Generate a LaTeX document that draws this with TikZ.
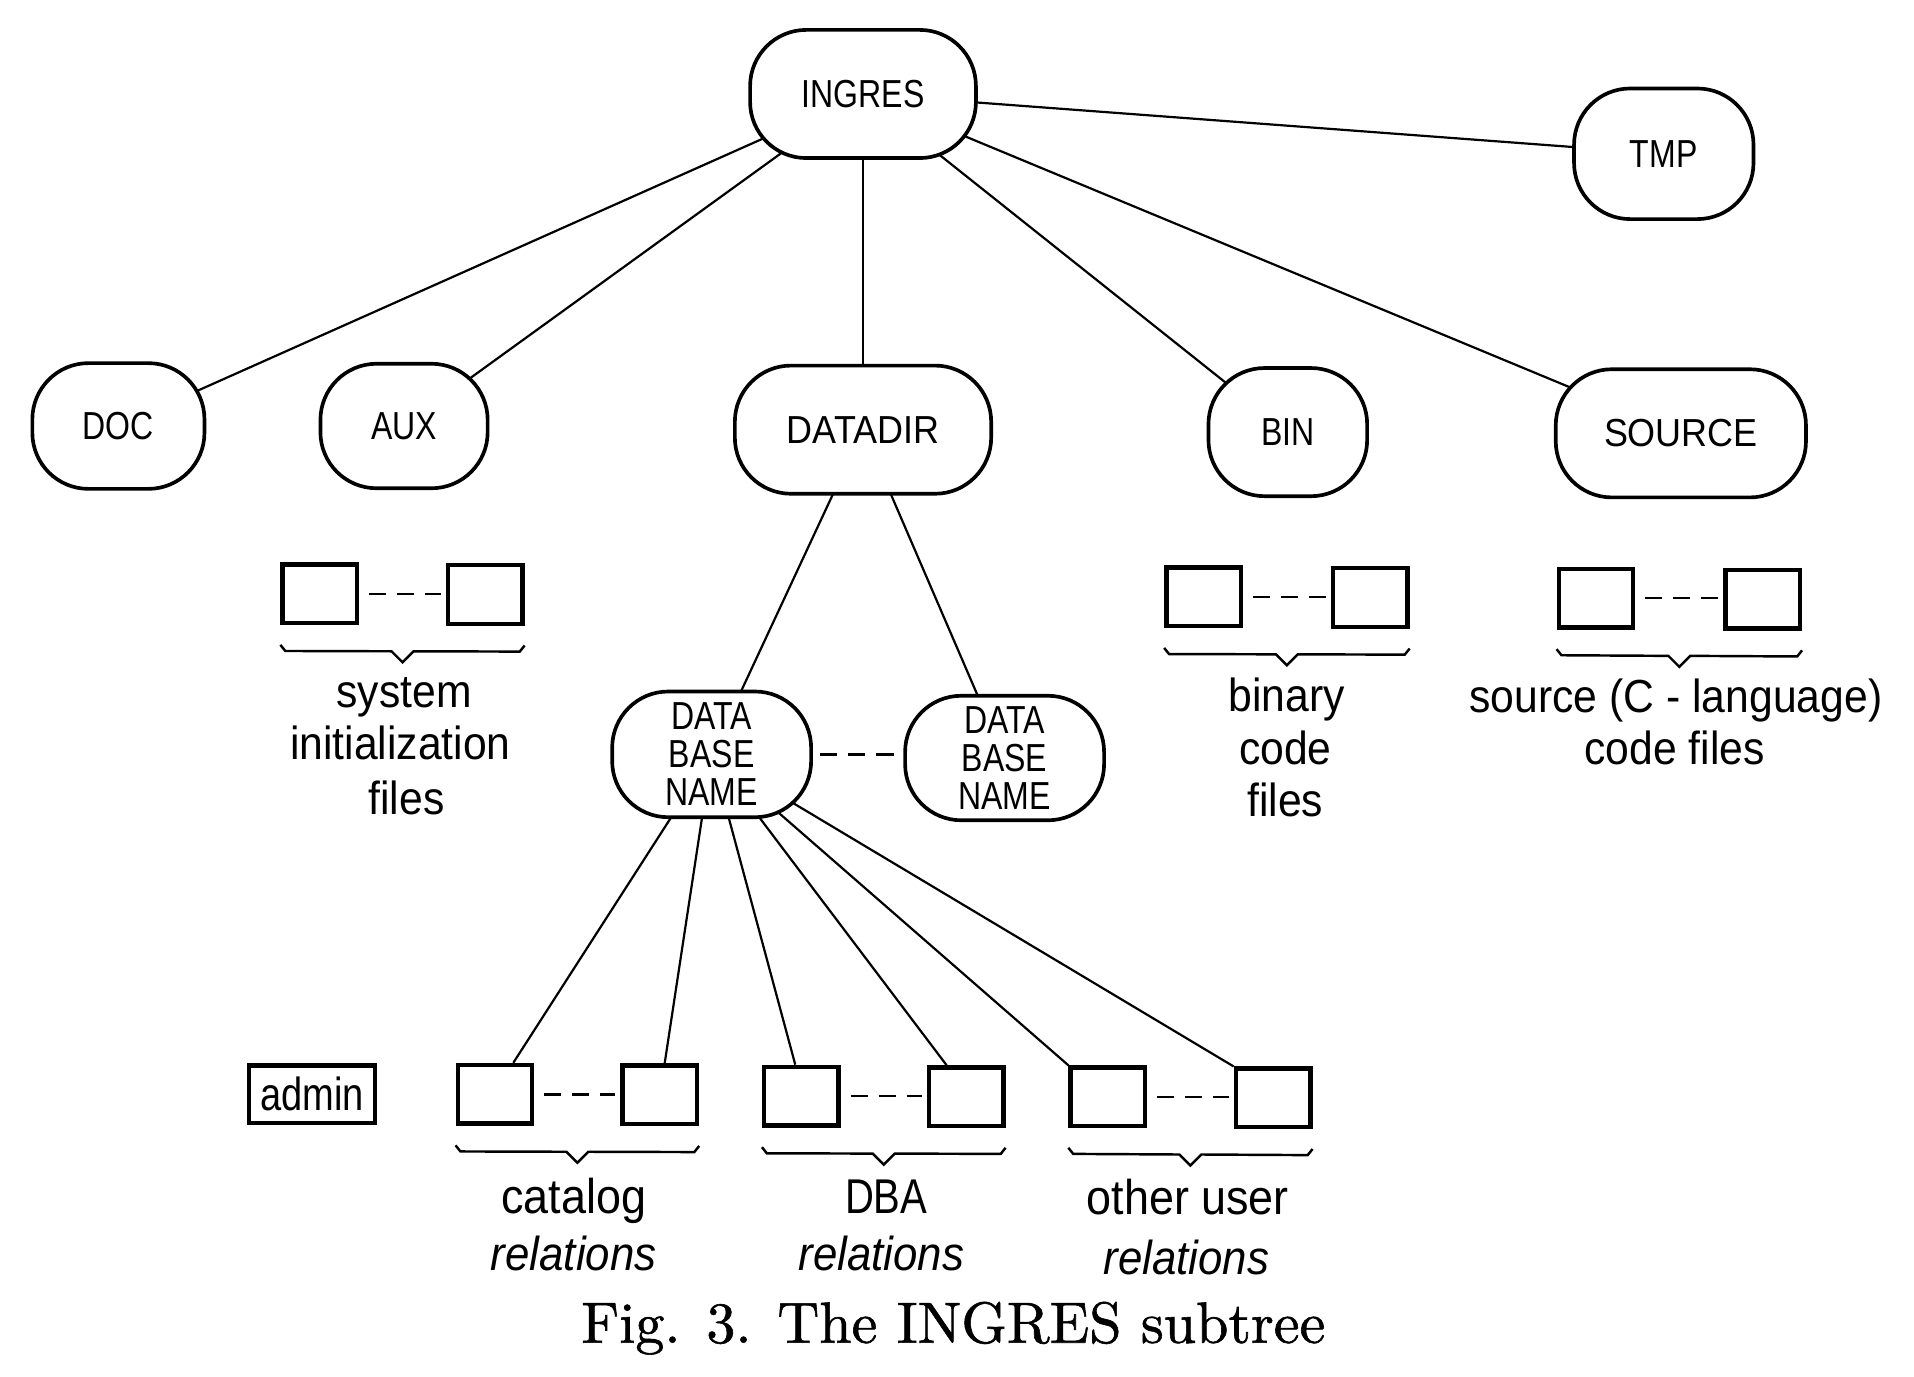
\documentclass[tikz,border=0pt]{standalone}
\usepackage{fontspec}
\newfontfamily\lab[FakeStretch=0.82]{Liberation Sans}
\newfontfamily\labw[FakeStretch=0.92]{Liberation Sans}
\newfontfamily\capfont[FakeBold=1]{lmroman10-regular.otf}
\usetikzlibrary{calc,backgrounds}
\begin{document}
\begin{tikzpicture}[x=0.5pt,y=-0.5pt,
  dir/.style={draw,line width=1.5pt,rounded corners=23pt,fill=white,inner sep=0pt,
    font=\lab\fontsize{16}{15.5}\selectfont,align=center},
  fbox/.style={draw,line width=1.8pt,fill=white,minimum width=30.5pt,minimum height=24pt,inner sep=0pt},
  edge/.style={line width=0.9pt},
  dots/.style={line width=1pt,dash pattern=on 7pt off 4.5pt},
  brc/.style={line width=1pt},
  lbl/.style={anchor=base,inner sep=0pt,font=\labw\fontsize{19}{22}\selectfont},
  blbl/.style={anchor=base,inner sep=0pt,font=\labw\fontsize{20}{22}\selectfont},
  clbl/.style={anchor=base,inner sep=0pt,font=\lab\fontsize{20}{22}\selectfont},
  ilbl/.style={anchor=base,inner sep=0pt,font=\labw\itshape\fontsize{19.5}{22}\selectfont},
]
\useasboundingbox (0,0) rectangle (1568,1127.3);

% directory nodes
\node[dir,minimum width=92.5pt,minimum height=52.5pt] (ingres) at (707,77) {INGRES};
\node[dir,minimum width=73.5pt,minimum height=53.5pt] (tmp) at (1363,126) {TMP};
\node[dir,minimum width=70.5pt,minimum height=51.5pt] (doc) at (97,349) {DOC};
\node[dir,minimum width=68.5pt,minimum height=51pt] (aux) at (331,349) {AUX};
\node[dir,minimum width=105pt,minimum height=52.5pt,font=\labw\fontsize{16}{15.5}\selectfont] (datadir) at (707,352) {DATADIR};
\node[dir,minimum width=65pt,minimum height=52.5pt] (bin) at (1055,354) {BIN};
\node[dir,minimum width=102.5pt,minimum height=52.5pt,font=\labw\fontsize{16}{15.5}\selectfont] (source) at (1377,355) {SOURCE};
\node[dir,minimum width=81.5pt,minimum height=51.5pt] (dbn1) at (583,618) {DATA\\BASE\\NAME};
\node[dir,minimum width=81.5pt,minimum height=51pt] (dbn2) at (823,621) {DATA\\BASE\\NAME};

% file boxes
\node[fbox] (aux1) at (262,486.5) {};
\node[fbox] (aux2) at (397.5,487) {};
\node[fbox] (bin1) at (986,489) {};
\node[fbox] (bin2) at (1122.5,489.5) {};
\node[fbox] (src1) at (1307.5,490) {};
\node[fbox] (src2) at (1444,491) {};
\node[fbox,minimum width=51.5pt,minimum height=23.5pt,font=\lab\fontsize{19}{19}\selectfont] (admin) at (255.5,896.5) {admin};
\node[fbox] (cat1) at (405.5,896.5) {};
\node[fbox] (cat2) at (540.5,897) {};
\node[fbox] (dba1) at (656.5,898) {};
\node[fbox] (dba2) at (791.5,898.5) {};
\node[fbox] (oth1) at (907.5,898.5) {};
\node[fbox] (oth2) at (1043,899.5) {};

% connectors
\begin{pgfonlayer}{background}
\draw[edge] (ingres.center) -- (doc.center);
\draw[edge] (ingres.center) -- (aux.center);
\draw[edge] (ingres.center) -- (datadir.center);
\draw[edge] (ingres.center) -- (bin.center);
\draw[edge] (ingres.center) -- (source.center);
\draw[edge] (ingres.center) -- (tmp.center);
\draw[edge] (datadir.center) -- (dbn1.center);
\draw[edge] (datadir.center) -- (dbn2.center);
\draw[edge] (dbn1.center) -- ($(cat1.north)+(15,0)$);
\draw[edge] (dbn1.center) -- ($(cat2.north)+(4,0)$);
\draw[edge] (dbn1.center) -- ($(dba1.north)+(-5,0)$);
\draw[edge] (dbn1.center) -- ($(dba2.north)+(-16,0)$);
\draw[edge] (dbn1.center) -- (oth1.north west);
\draw[edge] (dbn1.center) -- (oth2.north west);
\end{pgfonlayer}

\draw[dots,shorten <=3pt,shorten >=2pt] (dbn1.east) -- (dbn1.east -| dbn2.west);
\foreach \a/\b in {aux1/aux2,bin1/bin2,src1/src2,cat1/cat2,dba1/dba2,oth1/oth2}{
  \draw[dots,shorten <=4pt,shorten >=2pt] (\a.east) -- (\a.east -| \b.west);
  \coordinate (m) at ($(\a.south west)!0.5!(\b.south east)$);
  \draw[brc] ($(\a.south west)+(0,16)$) -- ++(4,5) -- ($(m)+(-9,21)$) -- ($(m)+(0,30)$)
    -- ($(m)+(9,21)$) -- ($(\b.south east)+(-4,21)$) -- ++(4,-5);
}

% labels
\node[lbl] (t1) at (331,580) {system};
\node[lbl] (t2) at (328,622) {initialization};
\node[lbl] (t3) at (333,667) {files};
\node[lbl] (t4) at (1054,583) {binary};
\node[lbl] (t5) at (1053,626) {code};
\node[lbl] (t6) at (1053,669) {files};
\node[lbl] (t7) at (1373,584) {source (C - language)};
\node[lbl] (t8) at (1372,626) {code files};
\node[blbl] (t9) at (470,994) {catalog};
\node[ilbl] (t10) at (470,1041) {relations};
\node[clbl] (t11) at (726,994) {DBA};
\node[ilbl] (t12) at (722,1041) {relations};
\node[blbl] (t13) at (973,995) {other user};
\node[ilbl] (t14) at (972,1044) {relations};

\node[anchor=base,inner sep=0pt,font=\capfont\fontsize{23.8}{24}\selectfont] (cap) at (781,1100) {Fig. 3. The INGRES subtree};
\end{tikzpicture}
\end{document}
